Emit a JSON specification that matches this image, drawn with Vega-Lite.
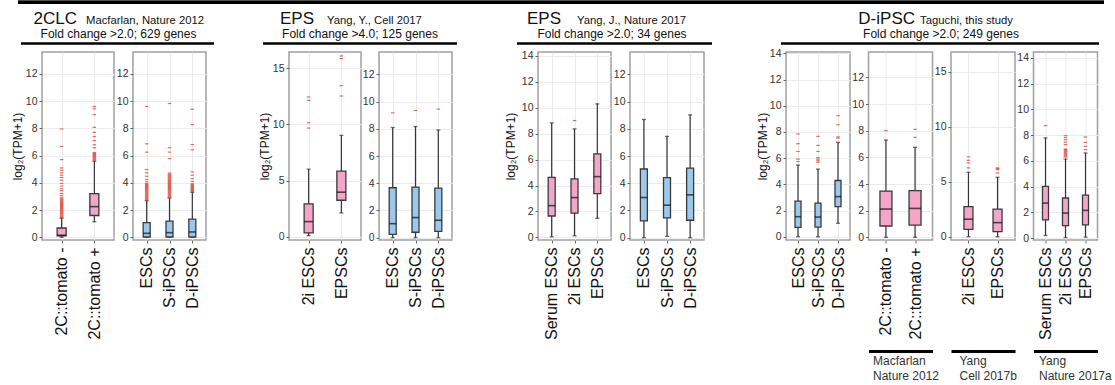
{
"$schema": "https://vega.github.io/schema/vega-lite/v6.json",
"background": "white",
"padding": {"left": 10, "top": 0, "right": 0, "bottom": 0},
"config": {
 "font": "Liberation Sans",
 "view": {"stroke": "#a0a0a0", "strokeWidth": 1.5},
 "axis": {"domain": false, "grid": true, "gridColor": "#ebebeb", "gridWidth": 1, "tickColor": "#666", "tickSize": 3, "tickWidth": 1, "labelColor": "#222", "titleFontWeight": "normal", "titleColor": "#111", "labelFont": "Liberation Sans", "titleFont": "Liberation Sans"},
 "axisX": {"labelAngle": -90, "labelFontSize": 16, "labelPadding": 4, "labelColor": "#111", "labelLimit": 200},
 "axisY": {"labelFontSize": 10.5, "labelPadding": 2, "labelColor": "#333", "titleFontSize": 12, "titlePadding": 1}
},
"datasets": {
 "hdr": [
  {"grp": "g1", "name": "2CLC", "ref": "Macfarlan, Nature 2012", "fc": "Fold change >2.0; 629 genes"},
  {"grp": "g2", "name": "EPS", "ref": "Yang, Y., Cell 2017", "fc": "Fold change >4.0; 125 genes"},
  {"grp": "g3", "name": "EPS", "ref": "Yang, J., Nature 2017", "fc": "Fold change >2.0; 34 genes"},
  {"grp": "g4", "name": "D-iPSC", "ref": "Taguchi, this study", "fc": "Fold change >2.0; 249 genes"}
 ],
 "box": [
  {"panel": "p1", "cat": "2C::tomato -", "lo": 0, "q1": 0.1, "med": 0.15, "q3": 0.68, "hi": 1.41},
  {"panel": "p1", "cat": "2C::tomato +", "lo": 1.14, "q1": 1.6, "med": 2.25, "q3": 3.2, "hi": 5.58},
  {"panel": "p2", "cat": "ESCs", "lo": 0, "q1": 0.02, "med": 0.29, "q3": 1.07, "hi": 2.69},
  {"panel": "p2", "cat": "S-iPSCs", "lo": 0, "q1": 0.02, "med": 0.34, "q3": 1.19, "hi": 2.89},
  {"panel": "p2", "cat": "D-iPSCs", "lo": 0, "q1": 0.02, "med": 0.39, "q3": 1.33, "hi": 3.3},
  {"panel": "p3", "cat": "2i ESCs", "lo": 0.09, "q1": 0.33, "med": 1.34, "q3": 2.92, "hi": 6.01},
  {"panel": "p3", "cat": "EPSCs", "lo": 2.11, "q1": 3.24, "med": 3.96, "q3": 5.83, "hi": 9.02},
  {"panel": "p4", "cat": "ESCs", "lo": 0, "q1": 0.25, "med": 1.03, "q3": 3.67, "hi": 8.1},
  {"panel": "p4", "cat": "S-iPSCs", "lo": 0, "q1": 0.4, "med": 1.48, "q3": 3.72, "hi": 8.17},
  {"panel": "p4", "cat": "D-iPSCs", "lo": 0, "q1": 0.47, "med": 1.28, "q3": 3.64, "hi": 7.92},
  {"panel": "p5", "cat": "Serum ESCs", "lo": 0.05, "q1": 1.65, "med": 2.45, "q3": 4.63, "hi": 8.83},
  {"panel": "p5", "cat": "2i ESCs", "lo": 0.13, "q1": 1.88, "med": 3.07, "q3": 4.51, "hi": 8.37},
  {"panel": "p5", "cat": "EPSCs", "lo": 1.47, "q1": 3.37, "med": 4.69, "q3": 6.44, "hi": 10.3},
  {"panel": "p6", "cat": "ESCs", "lo": 0, "q1": 1.23, "med": 2.95, "q3": 5.05, "hi": 8.69},
  {"panel": "p6", "cat": "S-iPSCs", "lo": 0.1, "q1": 1.45, "med": 2.39, "q3": 4.41, "hi": 7.45},
  {"panel": "p6", "cat": "D-iPSCs", "lo": 0, "q1": 1.28, "med": 3.15, "q3": 5.12, "hi": 9.03},
  {"panel": "p7", "cat": "ESCs", "lo": 0, "q1": 0.72, "med": 1.53, "q3": 2.71, "hi": 5.47},
  {"panel": "p7", "cat": "S-iPSCs", "lo": 0, "q1": 0.74, "med": 1.5, "q3": 2.56, "hi": 5.16},
  {"panel": "p7", "cat": "D-iPSCs", "lo": 1.03, "q1": 2.3, "med": 3.06, "q3": 4.29, "hi": 7.2},
  {"panel": "p8", "cat": "2C::tomato -", "lo": 0, "q1": 0.85, "med": 2.12, "q3": 3.47, "hi": 7.3},
  {"panel": "p8", "cat": "2C::tomato +", "lo": 0, "q1": 0.92, "med": 2.17, "q3": 3.5, "hi": 6.75},
  {"panel": "p9", "cat": "2i ESCs", "lo": 0, "q1": 0.67, "med": 1.59, "q3": 2.74, "hi": 5.86},
  {"panel": "p9", "cat": "EPSCs", "lo": 0, "q1": 0.46, "med": 1.28, "q3": 2.5, "hi": 5.4},
  {"panel": "p10", "cat": "Serum ESCs", "lo": 0.2, "q1": 1.42, "med": 2.72, "q3": 4.01, "hi": 7.78},
  {"panel": "p10", "cat": "2i ESCs", "lo": 0.04, "q1": 0.96, "med": 1.94, "q3": 3.11, "hi": 6.14},
  {"panel": "p10", "cat": "EPSCs", "lo": 0.07, "q1": 1.03, "med": 2.15, "q3": 3.34, "hi": 6.61}
 ],
 "out": [
  {"panel":"p1","cat":"2C::tomato -","v":1.42},{"panel":"p1","cat":"2C::tomato -","v":1.49},{"panel":"p1","cat":"2C::tomato -","v":1.56},{"panel":"p1","cat":"2C::tomato -","v":1.63},{"panel":"p1","cat":"2C::tomato -","v":1.7},{"panel":"p1","cat":"2C::tomato -","v":1.77},{"panel":"p1","cat":"2C::tomato -","v":1.84},{"panel":"p1","cat":"2C::tomato -","v":1.91},{"panel":"p1","cat":"2C::tomato -","v":1.98},{"panel":"p1","cat":"2C::tomato -","v":2.05},{"panel":"p1","cat":"2C::tomato -","v":2.12},{"panel":"p1","cat":"2C::tomato -","v":2.19},{"panel":"p1","cat":"2C::tomato -","v":2.26},{"panel":"p1","cat":"2C::tomato -","v":2.33},{"panel":"p1","cat":"2C::tomato -","v":2.4},{"panel":"p1","cat":"2C::tomato -","v":2.47},{"panel":"p1","cat":"2C::tomato -","v":2.54},{"panel":"p1","cat":"2C::tomato -","v":2.61},{"panel":"p1","cat":"2C::tomato -","v":2.68},{"panel":"p1","cat":"2C::tomato -","v":2.75},{"panel":"p1","cat":"2C::tomato -","v":2.82},{"panel":"p1","cat":"2C::tomato -","v":2.9},{"panel":"p1","cat":"2C::tomato -","v":3.05},{"panel":"p1","cat":"2C::tomato -","v":3.22},{"panel":"p1","cat":"2C::tomato -","v":3.42},{"panel":"p1","cat":"2C::tomato -","v":3.56},{"panel":"p1","cat":"2C::tomato -","v":3.76},{"panel":"p1","cat":"2C::tomato -","v":3.95},{"panel":"p1","cat":"2C::tomato -","v":4.19},{"panel":"p1","cat":"2C::tomato -","v":4.39},{"panel":"p1","cat":"2C::tomato -","v":4.56},{"panel":"p1","cat":"2C::tomato -","v":4.73},{"panel":"p1","cat":"2C::tomato -","v":4.92},{"panel":"p1","cat":"2C::tomato -","v":5.09},{"panel":"p1","cat":"2C::tomato -","v":5.7},{"panel":"p1","cat":"2C::tomato -","v":6.67},{"panel":"p1","cat":"2C::tomato -","v":7.95},
  {"panel":"p1","cat":"2C::tomato +","v":5.66},{"panel":"p1","cat":"2C::tomato +","v":5.73},{"panel":"p1","cat":"2C::tomato +","v":5.8},{"panel":"p1","cat":"2C::tomato +","v":5.87},{"panel":"p1","cat":"2C::tomato +","v":5.94},{"panel":"p1","cat":"2C::tomato +","v":6.01},{"panel":"p1","cat":"2C::tomato +","v":6.08},{"panel":"p1","cat":"2C::tomato +","v":6.15},{"panel":"p1","cat":"2C::tomato +","v":6.22},{"panel":"p1","cat":"2C::tomato +","v":6.57},{"panel":"p1","cat":"2C::tomato +","v":6.8},{"panel":"p1","cat":"2C::tomato +","v":7.1},{"panel":"p1","cat":"2C::tomato +","v":7.4},{"panel":"p1","cat":"2C::tomato +","v":7.7},{"panel":"p1","cat":"2C::tomato +","v":8.07},{"panel":"p1","cat":"2C::tomato +","v":9.0},{"panel":"p1","cat":"2C::tomato +","v":9.43},{"panel":"p1","cat":"2C::tomato +","v":9.6},
  {"panel":"p2","cat":"ESCs","v":2.75},{"panel":"p2","cat":"ESCs","v":2.82},{"panel":"p2","cat":"ESCs","v":2.89},{"panel":"p2","cat":"ESCs","v":2.96},{"panel":"p2","cat":"ESCs","v":3.03},{"panel":"p2","cat":"ESCs","v":3.1},{"panel":"p2","cat":"ESCs","v":3.17},{"panel":"p2","cat":"ESCs","v":3.24},{"panel":"p2","cat":"ESCs","v":3.31},{"panel":"p2","cat":"ESCs","v":3.38},{"panel":"p2","cat":"ESCs","v":3.45},{"panel":"p2","cat":"ESCs","v":3.52},{"panel":"p2","cat":"ESCs","v":3.59},{"panel":"p2","cat":"ESCs","v":3.66},{"panel":"p2","cat":"ESCs","v":3.73},{"panel":"p2","cat":"ESCs","v":3.8},{"panel":"p2","cat":"ESCs","v":3.87},{"panel":"p2","cat":"ESCs","v":3.94},{"panel":"p2","cat":"ESCs","v":4.07},{"panel":"p2","cat":"ESCs","v":4.24},{"panel":"p2","cat":"ESCs","v":4.48},{"panel":"p2","cat":"ESCs","v":4.73},{"panel":"p2","cat":"ESCs","v":4.97},{"panel":"p2","cat":"ESCs","v":6.25},{"panel":"p2","cat":"ESCs","v":6.86},{"panel":"p2","cat":"ESCs","v":9.6},
  {"panel":"p2","cat":"S-iPSCs","v":2.96},{"panel":"p2","cat":"S-iPSCs","v":3.03},{"panel":"p2","cat":"S-iPSCs","v":3.1},{"panel":"p2","cat":"S-iPSCs","v":3.17},{"panel":"p2","cat":"S-iPSCs","v":3.24},{"panel":"p2","cat":"S-iPSCs","v":3.31},{"panel":"p2","cat":"S-iPSCs","v":3.38},{"panel":"p2","cat":"S-iPSCs","v":3.45},{"panel":"p2","cat":"S-iPSCs","v":3.52},{"panel":"p2","cat":"S-iPSCs","v":3.59},{"panel":"p2","cat":"S-iPSCs","v":3.66},{"panel":"p2","cat":"S-iPSCs","v":3.73},{"panel":"p2","cat":"S-iPSCs","v":3.8},{"panel":"p2","cat":"S-iPSCs","v":3.87},{"panel":"p2","cat":"S-iPSCs","v":3.94},{"panel":"p2","cat":"S-iPSCs","v":4.01},{"panel":"p2","cat":"S-iPSCs","v":4.08},{"panel":"p2","cat":"S-iPSCs","v":4.15},{"panel":"p2","cat":"S-iPSCs","v":4.22},{"panel":"p2","cat":"S-iPSCs","v":4.29},{"panel":"p2","cat":"S-iPSCs","v":4.36},{"panel":"p2","cat":"S-iPSCs","v":4.43},{"panel":"p2","cat":"S-iPSCs","v":4.5},{"panel":"p2","cat":"S-iPSCs","v":4.57},{"panel":"p2","cat":"S-iPSCs","v":4.64},{"panel":"p2","cat":"S-iPSCs","v":4.71},{"panel":"p2","cat":"S-iPSCs","v":5.77},{"panel":"p2","cat":"S-iPSCs","v":6.25},{"panel":"p2","cat":"S-iPSCs","v":6.57},{"panel":"p2","cat":"S-iPSCs","v":9.82},
  {"panel":"p2","cat":"D-iPSCs","v":3.37},{"panel":"p2","cat":"D-iPSCs","v":3.44},{"panel":"p2","cat":"D-iPSCs","v":3.51},{"panel":"p2","cat":"D-iPSCs","v":3.58},{"panel":"p2","cat":"D-iPSCs","v":3.65},{"panel":"p2","cat":"D-iPSCs","v":3.72},{"panel":"p2","cat":"D-iPSCs","v":3.79},{"panel":"p2","cat":"D-iPSCs","v":3.86},{"panel":"p2","cat":"D-iPSCs","v":3.93},{"panel":"p2","cat":"D-iPSCs","v":4.1},{"panel":"p2","cat":"D-iPSCs","v":4.3},{"panel":"p2","cat":"D-iPSCs","v":4.55},{"panel":"p2","cat":"D-iPSCs","v":4.8},{"panel":"p2","cat":"D-iPSCs","v":6.42},{"panel":"p2","cat":"D-iPSCs","v":6.8},{"panel":"p2","cat":"D-iPSCs","v":8.27},{"panel":"p2","cat":"D-iPSCs","v":9.4},
  {"panel":"p3","cat":"2i ESCs","v":9.67},{"panel":"p3","cat":"2i ESCs","v":10.15},{"panel":"p3","cat":"2i ESCs","v":12.14},{"panel":"p3","cat":"2i ESCs","v":12.44},
  {"panel":"p3","cat":"EPSCs","v":12.53},{"panel":"p3","cat":"EPSCs","v":13.45},{"panel":"p3","cat":"EPSCs","v":15.87},{"panel":"p3","cat":"EPSCs","v":16.1},
  {"panel":"p4","cat":"ESCs","v":9.18},{"panel":"p4","cat":"S-iPSCs","v":9.35},{"panel":"p4","cat":"D-iPSCs","v":9.45},
  {"panel":"p5","cat":"2i ESCs","v":9.01},
  {"panel":"p7","cat":"ESCs","v":5.74},{"panel":"p7","cat":"ESCs","v":5.92},{"panel":"p7","cat":"ESCs","v":6.51},{"panel":"p7","cat":"ESCs","v":7.1},{"panel":"p7","cat":"ESCs","v":7.84},
  {"panel":"p7","cat":"S-iPSCs","v":5.69},{"panel":"p7","cat":"S-iPSCs","v":5.8},{"panel":"p7","cat":"S-iPSCs","v":5.92},{"panel":"p7","cat":"S-iPSCs","v":6.03},{"panel":"p7","cat":"S-iPSCs","v":6.51},{"panel":"p7","cat":"S-iPSCs","v":6.97},{"panel":"p7","cat":"S-iPSCs","v":7.66},
  {"panel":"p7","cat":"D-iPSCs","v":7.53},{"panel":"p7","cat":"D-iPSCs","v":7.62},{"panel":"p7","cat":"D-iPSCs","v":8.55},{"panel":"p7","cat":"D-iPSCs","v":9.24},
  {"panel":"p8","cat":"2C::tomato -","v":8.0},{"panel":"p8","cat":"2C::tomato +","v":7.5},{"panel":"p8","cat":"2C::tomato +","v":8.1},
  {"panel":"p9","cat":"2i ESCs","v":6.26},{"panel":"p9","cat":"2i ESCs","v":6.71},{"panel":"p9","cat":"2i ESCs","v":6.95},{"panel":"p9","cat":"2i ESCs","v":7.26},
  {"panel":"p9","cat":"EPSCs","v":5.8},{"panel":"p9","cat":"EPSCs","v":6.1},{"panel":"p9","cat":"EPSCs","v":6.2},{"panel":"p9","cat":"EPSCs","v":6.26},
  {"panel":"p10","cat":"Serum ESCs","v":8.73},
  {"panel":"p10","cat":"2i ESCs","v":6.3},{"panel":"p10","cat":"2i ESCs","v":6.38},{"panel":"p10","cat":"2i ESCs","v":6.46},{"panel":"p10","cat":"2i ESCs","v":6.54},{"panel":"p10","cat":"2i ESCs","v":6.62},{"panel":"p10","cat":"2i ESCs","v":6.7},{"panel":"p10","cat":"2i ESCs","v":6.78},{"panel":"p10","cat":"2i ESCs","v":6.86},{"panel":"p10","cat":"2i ESCs","v":6.92},{"panel":"p10","cat":"2i ESCs","v":7.26},{"panel":"p10","cat":"2i ESCs","v":7.45},{"panel":"p10","cat":"2i ESCs","v":7.64},{"panel":"p10","cat":"2i ESCs","v":7.8},{"panel":"p10","cat":"2i ESCs","v":7.95},
  {"panel":"p10","cat":"EPSCs","v":6.87},{"panel":"p10","cat":"EPSCs","v":7.12},{"panel":"p10","cat":"EPSCs","v":7.43},{"panel":"p10","cat":"EPSCs","v":7.85}
 ]
},
"spacing": 2,
"vconcat": [
 {
  "width": 1070, "height": 44,
  "view": {"stroke": null},
  "data": {"name": "hdr"},
  "layer": [
   {"mark": {"type": "rule", "strokeWidth": 3, "color": "#000"}, "encoding": {"x": {"datum": 17, "type": "quantitative", "scale": {"domain": [41, 1111], "nice": false, "zero": false}, "axis": null}, "x2": {"datum": 1103}, "y": {"datum": 1.3, "type": "quantitative", "scale": {"domain": [0, 44], "reverse": true, "nice": false, "zero": false}, "axis": null}}},
   {"transform": [{"filter": "datum.grp == 'g1'"}], "layer": [
     {"mark": {"type": "text", "align": "right", "baseline": "alphabetic", "fontSize": 17, "color": "#111"}, "encoding": {"x": {"datum": 76}, "y": {"datum": 23}, "text": {"field": "name"}}},
     {"mark": {"type": "text", "align": "left", "baseline": "alphabetic", "fontSize": 11.3, "color": "#111"}, "encoding": {"x": {"datum": 85}, "y": {"datum": 22.8}, "text": {"field": "ref"}}},
     {"mark": {"type": "text", "align": "center", "baseline": "alphabetic", "fontSize": 12, "color": "#111"}, "encoding": {"x": {"datum": 117.5}, "y": {"datum": 37.3}, "text": {"field": "fc"}}},
     {"mark": {"type": "rule", "strokeWidth": 2.3, "color": "#000"}, "encoding": {"x": {"datum": 20}, "x2": {"datum": 213}, "y": {"datum": 42.5}}}
   ]},
   {"transform": [{"filter": "datum.grp == 'g2'"}], "layer": [
     {"mark": {"type": "text", "align": "right", "baseline": "alphabetic", "fontSize": 17, "color": "#111"}, "encoding": {"x": {"datum": 313}, "y": {"datum": 23}, "text": {"field": "name"}}},
     {"mark": {"type": "text", "align": "left", "baseline": "alphabetic", "fontSize": 11.3, "color": "#111"}, "encoding": {"x": {"datum": 326}, "y": {"datum": 22.8}, "text": {"field": "ref"}}},
     {"mark": {"type": "text", "align": "center", "baseline": "alphabetic", "fontSize": 12, "color": "#111"}, "encoding": {"x": {"datum": 359}, "y": {"datum": 37.3}, "text": {"field": "fc"}}},
     {"mark": {"type": "rule", "strokeWidth": 2.3, "color": "#000"}, "encoding": {"x": {"datum": 262}, "x2": {"datum": 456}, "y": {"datum": 42.5}}}
   ]},
   {"transform": [{"filter": "datum.grp == 'g3'"}], "layer": [
     {"mark": {"type": "text", "align": "right", "baseline": "alphabetic", "fontSize": 17, "color": "#111"}, "encoding": {"x": {"datum": 560}, "y": {"datum": 23}, "text": {"field": "name"}}},
     {"mark": {"type": "text", "align": "left", "baseline": "alphabetic", "fontSize": 11.3, "color": "#111"}, "encoding": {"x": {"datum": 576}, "y": {"datum": 22.8}, "text": {"field": "ref"}}},
     {"mark": {"type": "text", "align": "center", "baseline": "alphabetic", "fontSize": 12, "color": "#111"}, "encoding": {"x": {"datum": 611}, "y": {"datum": 37.3}, "text": {"field": "fc"}}},
     {"mark": {"type": "rule", "strokeWidth": 2.3, "color": "#000"}, "encoding": {"x": {"datum": 516}, "x2": {"datum": 711}, "y": {"datum": 42.5}}}
   ]},
   {"transform": [{"filter": "datum.grp == 'g4'"}], "layer": [
     {"mark": {"type": "text", "align": "right", "baseline": "alphabetic", "fontSize": 17, "color": "#111"}, "encoding": {"x": {"datum": 914}, "y": {"datum": 23}, "text": {"field": "name"}}},
     {"mark": {"type": "text", "align": "left", "baseline": "alphabetic", "fontSize": 11.3, "color": "#111"}, "encoding": {"x": {"datum": 919}, "y": {"datum": 22.8}, "text": {"field": "ref"}}},
     {"mark": {"type": "text", "align": "center", "baseline": "alphabetic", "fontSize": 12, "color": "#111"}, "encoding": {"x": {"datum": 940}, "y": {"datum": 37.3}, "text": {"field": "fc"}}},
     {"mark": {"type": "rule", "strokeWidth": 2.3, "color": "#000"}, "encoding": {"x": {"datum": 780}, "x2": {"datum": 1098}, "y": {"datum": 42.5}}}
   ]}
  ]
 },
 {
  "spacing": 50,
  "hconcat": [
   {"spacing": 19, "bounds": "flush", "hconcat": [
    {"width": 72, "height": 188, "data": {"name": "box"}, "transform": [{"filter": "datum.panel == 'p1'"}],
     "encoding": {"x": {"field": "cat", "type": "nominal", "title": null, "scale": {"type": "point", "padding": 0.6, "domain": ["2C::tomato -", "2C::tomato +"]}}},
     "layer": [
      {"mark": {"type": "rule", "color": "#333", "strokeWidth": 1.2}, "encoding": {"y": {"field": "lo", "type": "quantitative", "title": "log₂(TPM+1)", "scale": {"domain": [-0.2, 13.6], "nice": false, "zero": false}, "axis": {"tickCount": 7}}, "y2": {"field": "hi"}}},
      {"mark": {"type": "tick", "color": "#333", "size": 4, "thickness": 1.3}, "encoding": {"y": {"field": "lo", "type": "quantitative", "title": "log₂(TPM+1)"}}},
      {"mark": {"type": "tick", "color": "#333", "size": 4, "thickness": 1.3}, "encoding": {"y": {"field": "hi", "type": "quantitative", "title": "log₂(TPM+1)"}}},
      {"mark": {"type": "bar", "width": 9, "fill": "#f3a6c8", "stroke": "#3a3a3a", "strokeWidth": 1.3}, "encoding": {"y": {"field": "q1", "type": "quantitative", "title": "log₂(TPM+1)"}, "y2": {"field": "q3"}}},
      {"mark": {"type": "tick", "color": "#111", "size": 9, "thickness": 1.6}, "encoding": {"y": {"field": "med", "type": "quantitative", "title": "log₂(TPM+1)"}}},
      {"data": {"name": "out"}, "transform": [{"filter": "datum.panel == 'p1'"}], "mark": {"type": "tick", "color": "#d7301f", "size": 3.5, "thickness": 1.2}, "encoding": {"y": {"field": "v", "type": "quantitative", "title": "log₂(TPM+1)"}}}
     ]},
    {"width": 73, "height": 188, "data": {"name": "box"}, "transform": [{"filter": "datum.panel == 'p2'"}],
     "encoding": {"x": {"field": "cat", "type": "nominal", "title": null, "scale": {"type": "point", "padding": 0.6, "domain": ["ESCs", "S-iPSCs", "D-iPSCs"]}}},
     "layer": [
      {"mark": {"type": "rule", "color": "#333", "strokeWidth": 1.2}, "encoding": {"y": {"field": "lo", "type": "quantitative", "title": null, "scale": {"domain": [-0.2, 13.6], "nice": false, "zero": false}, "axis": {"tickCount": 7}}, "y2": {"field": "hi"}}},
      {"mark": {"type": "tick", "color": "#333", "size": 4, "thickness": 1.3}, "encoding": {"y": {"field": "lo", "type": "quantitative", "title": null}}},
      {"mark": {"type": "tick", "color": "#333", "size": 4, "thickness": 1.3}, "encoding": {"y": {"field": "hi", "type": "quantitative", "title": null}}},
      {"mark": {"type": "bar", "width": 7, "fill": "#9cc9eb", "stroke": "#3a3a3a", "strokeWidth": 1.3}, "encoding": {"y": {"field": "q1", "type": "quantitative", "title": null}, "y2": {"field": "q3"}}},
      {"mark": {"type": "tick", "color": "#111", "size": 7, "thickness": 1.6}, "encoding": {"y": {"field": "med", "type": "quantitative", "title": null}}},
      {"data": {"name": "out"}, "transform": [{"filter": "datum.panel == 'p2'"}], "mark": {"type": "tick", "color": "#d7301f", "size": 3.5, "thickness": 1.2}, "encoding": {"y": {"field": "v", "type": "quantitative", "title": null}}}
     ]}
   ]},
   {"spacing": 18, "bounds": "flush", "hconcat": [
    {"width": 72, "height": 188, "data": {"name": "box"}, "transform": [{"filter": "datum.panel == 'p3'"}],
     "encoding": {"x": {"field": "cat", "type": "nominal", "title": null, "scale": {"type": "point", "padding": 0.6, "domain": ["2i ESCs", "EPSCs"]}}},
     "layer": [
      {"mark": {"type": "rule", "color": "#333", "strokeWidth": 1.2}, "encoding": {"y": {"field": "lo", "type": "quantitative", "title": "log₂(TPM+1)", "scale": {"domain": [-0.3, 16.45], "nice": false, "zero": false}, "axis": {"tickCount": 4}}, "y2": {"field": "hi"}}},
      {"mark": {"type": "tick", "color": "#333", "size": 4, "thickness": 1.3}, "encoding": {"y": {"field": "lo", "type": "quantitative", "title": "log₂(TPM+1)"}}},
      {"mark": {"type": "tick", "color": "#333", "size": 4, "thickness": 1.3}, "encoding": {"y": {"field": "hi", "type": "quantitative", "title": "log₂(TPM+1)"}}},
      {"mark": {"type": "bar", "width": 9, "fill": "#f3a6c8", "stroke": "#3a3a3a", "strokeWidth": 1.3}, "encoding": {"y": {"field": "q1", "type": "quantitative", "title": "log₂(TPM+1)"}, "y2": {"field": "q3"}}},
      {"mark": {"type": "tick", "color": "#111", "size": 9, "thickness": 1.6}, "encoding": {"y": {"field": "med", "type": "quantitative", "title": "log₂(TPM+1)"}}},
      {"data": {"name": "out"}, "transform": [{"filter": "datum.panel == 'p3'"}], "mark": {"type": "tick", "color": "#d7301f", "size": 3.5, "thickness": 1.2}, "encoding": {"y": {"field": "v", "type": "quantitative", "title": "log₂(TPM+1)"}}}
     ]},
    {"width": 73, "height": 188, "data": {"name": "box"}, "transform": [{"filter": "datum.panel == 'p4'"}],
     "encoding": {"x": {"field": "cat", "type": "nominal", "title": null, "scale": {"type": "point", "padding": 0.6, "domain": ["ESCs", "S-iPSCs", "D-iPSCs"]}}},
     "layer": [
      {"mark": {"type": "rule", "color": "#333", "strokeWidth": 1.2}, "encoding": {"y": {"field": "lo", "type": "quantitative", "title": null, "scale": {"domain": [-0.17, 13.65], "nice": false, "zero": false}, "axis": {"tickCount": 7}}, "y2": {"field": "hi"}}},
      {"mark": {"type": "tick", "color": "#333", "size": 4, "thickness": 1.3}, "encoding": {"y": {"field": "lo", "type": "quantitative", "title": null}}},
      {"mark": {"type": "tick", "color": "#333", "size": 4, "thickness": 1.3}, "encoding": {"y": {"field": "hi", "type": "quantitative", "title": null}}},
      {"mark": {"type": "bar", "width": 7, "fill": "#9cc9eb", "stroke": "#3a3a3a", "strokeWidth": 1.3}, "encoding": {"y": {"field": "q1", "type": "quantitative", "title": null}, "y2": {"field": "q3"}}},
      {"mark": {"type": "tick", "color": "#111", "size": 7, "thickness": 1.6}, "encoding": {"y": {"field": "med", "type": "quantitative", "title": null}}},
      {"data": {"name": "out"}, "transform": [{"filter": "datum.panel == 'p4'"}], "mark": {"type": "tick", "color": "#d7301f", "size": 3.5, "thickness": 1.2}, "encoding": {"y": {"field": "v", "type": "quantitative", "title": null}}}
     ]}
   ]},
   {"spacing": 19, "bounds": "flush", "hconcat": [
    {"width": 73, "height": 188, "data": {"name": "box"}, "transform": [{"filter": "datum.panel == 'p5'"}],
     "encoding": {"x": {"field": "cat", "type": "nominal", "title": null, "scale": {"type": "point", "padding": 0.6, "domain": ["Serum ESCs", "2i ESCs", "EPSCs"]}}},
     "layer": [
      {"mark": {"type": "rule", "color": "#333", "strokeWidth": 1.2}, "encoding": {"y": {"field": "lo", "type": "quantitative", "title": "log₂(TPM+1)", "scale": {"domain": [-0.2, 14.3], "nice": false, "zero": false}, "axis": {"tickCount": 8, "titlePadding": 4}}, "y2": {"field": "hi"}}},
      {"mark": {"type": "tick", "color": "#333", "size": 4, "thickness": 1.3}, "encoding": {"y": {"field": "lo", "type": "quantitative", "title": "log₂(TPM+1)"}}},
      {"mark": {"type": "tick", "color": "#333", "size": 4, "thickness": 1.3}, "encoding": {"y": {"field": "hi", "type": "quantitative", "title": "log₂(TPM+1)"}}},
      {"mark": {"type": "bar", "width": 7, "fill": "#f3a6c8", "stroke": "#3a3a3a", "strokeWidth": 1.3}, "encoding": {"y": {"field": "q1", "type": "quantitative", "title": "log₂(TPM+1)"}, "y2": {"field": "q3"}}},
      {"mark": {"type": "tick", "color": "#111", "size": 7, "thickness": 1.6}, "encoding": {"y": {"field": "med", "type": "quantitative", "title": "log₂(TPM+1)"}}},
      {"data": {"name": "out"}, "transform": [{"filter": "datum.panel == 'p5'"}], "mark": {"type": "tick", "color": "#d7301f", "size": 3.5, "thickness": 1.2}, "encoding": {"y": {"field": "v", "type": "quantitative", "title": "log₂(TPM+1)"}}}
     ]},
    {"width": 74, "height": 188, "data": {"name": "box"}, "transform": [{"filter": "datum.panel == 'p6'"}],
     "encoding": {"x": {"field": "cat", "type": "nominal", "title": null, "scale": {"type": "point", "padding": 0.6, "domain": ["ESCs", "S-iPSCs", "D-iPSCs"]}}},
     "layer": [
      {"mark": {"type": "rule", "color": "#333", "strokeWidth": 1.2}, "encoding": {"y": {"field": "lo", "type": "quantitative", "title": null, "scale": {"domain": [-0.17, 13.65], "nice": false, "zero": false}, "axis": {"tickCount": 7}}, "y2": {"field": "hi"}}},
      {"mark": {"type": "tick", "color": "#333", "size": 4, "thickness": 1.3}, "encoding": {"y": {"field": "lo", "type": "quantitative", "title": null}}},
      {"mark": {"type": "tick", "color": "#333", "size": 4, "thickness": 1.3}, "encoding": {"y": {"field": "hi", "type": "quantitative", "title": null}}},
      {"mark": {"type": "bar", "width": 7, "fill": "#9cc9eb", "stroke": "#3a3a3a", "strokeWidth": 1.3}, "encoding": {"y": {"field": "q1", "type": "quantitative", "title": null}, "y2": {"field": "q3"}}},
      {"mark": {"type": "tick", "color": "#111", "size": 7, "thickness": 1.6}, "encoding": {"y": {"field": "med", "type": "quantitative", "title": null}}}
     ]}
   ]},
   {"spacing": 18.5, "bounds": "flush", "hconcat": [
    {"width": 64, "height": 188, "data": {"name": "box"}, "transform": [{"filter": "datum.panel == 'p7'"}],
     "encoding": {"x": {"field": "cat", "type": "nominal", "title": null, "scale": {"type": "point", "padding": 0.6, "domain": ["ESCs", "S-iPSCs", "D-iPSCs"]}}},
     "layer": [
      {"mark": {"type": "rule", "color": "#333", "strokeWidth": 1.2}, "encoding": {"y": {"field": "lo", "type": "quantitative", "title": "log₂(TPM+1)", "scale": {"domain": [-0.25, 14.1], "nice": false, "zero": false}, "axis": {"tickCount": 7, "titlePadding": 0}}, "y2": {"field": "hi"}}},
      {"mark": {"type": "tick", "color": "#333", "size": 4, "thickness": 1.3}, "encoding": {"y": {"field": "lo", "type": "quantitative", "title": "log₂(TPM+1)"}}},
      {"mark": {"type": "tick", "color": "#333", "size": 4, "thickness": 1.3}, "encoding": {"y": {"field": "hi", "type": "quantitative", "title": "log₂(TPM+1)"}}},
      {"mark": {"type": "bar", "width": 6, "fill": "#9cc9eb", "stroke": "#3a3a3a", "strokeWidth": 1.3}, "encoding": {"y": {"field": "q1", "type": "quantitative", "title": "log₂(TPM+1)"}, "y2": {"field": "q3"}}},
      {"mark": {"type": "tick", "color": "#111", "size": 6, "thickness": 1.6}, "encoding": {"y": {"field": "med", "type": "quantitative", "title": "log₂(TPM+1)"}}},
      {"data": {"name": "out"}, "transform": [{"filter": "datum.panel == 'p7'"}], "mark": {"type": "tick", "color": "#d7301f", "size": 3.5, "thickness": 1.2}, "encoding": {"y": {"field": "v", "type": "quantitative", "title": "log₂(TPM+1)"}}}
     ]},
    {"width": 64, "height": 188, "data": {"name": "box"}, "transform": [{"filter": "datum.panel == 'p8'"}],
     "resolve": {"axis": {"x": "independent"}},
     "layer": [
      {"encoding": {"x": {"field": "cat", "type": "nominal", "title": null, "scale": {"type": "point", "padding": 0.6, "domain": ["2C::tomato -", "2C::tomato +"]}}},
       "layer": [
        {"mark": {"type": "rule", "color": "#333", "strokeWidth": 1.2}, "encoding": {"y": {"field": "lo", "type": "quantitative", "title": null, "scale": {"domain": [-0.2, 13.9], "nice": false, "zero": false}, "axis": {"tickCount": 7}}, "y2": {"field": "hi"}}},
        {"mark": {"type": "tick", "color": "#333", "size": 4, "thickness": 1.3}, "encoding": {"y": {"field": "lo", "type": "quantitative", "title": null}}},
        {"mark": {"type": "tick", "color": "#333", "size": 4, "thickness": 1.3}, "encoding": {"y": {"field": "hi", "type": "quantitative", "title": null}}},
        {"mark": {"type": "bar", "width": 12, "fill": "#f3a6c8", "stroke": "#3a3a3a", "strokeWidth": 1.3}, "encoding": {"y": {"field": "q1", "type": "quantitative", "title": null}, "y2": {"field": "q3"}}},
        {"mark": {"type": "tick", "color": "#111", "size": 12, "thickness": 1.6}, "encoding": {"y": {"field": "med", "type": "quantitative", "title": null}}},
        {"data": {"name": "out"}, "transform": [{"filter": "datum.panel == 'p8'"}], "mark": {"type": "tick", "color": "#d7301f", "size": 3.5, "thickness": 1.2}, "encoding": {"y": {"field": "v", "type": "quantitative", "title": null}}}
       ]},
      {"mark": {"type": "rule", "opacity": 0}, "encoding": {"x": {"field": "cat", "type": "nominal", "title": ["Macfarlan", "Nature 2012"], "scale": {"type": "point", "padding": 0.6, "domain": ["2C::tomato -", "2C::tomato +"]}, "axis": {"orient": "bottom", "offset": 111, "labels": false, "ticks": false, "grid": false, "domain": true, "domainColor": "#000", "domainWidth": 3, "titleAnchor": "start", "titleAlign": "left", "titleBaseline": "top", "titleX": 4, "titleY": 4, "titleFontSize": 12, "titleColor": "#333", "titleLineHeight": 15}}}}
     ]},
    {"width": 64, "height": 188, "data": {"name": "box"}, "transform": [{"filter": "datum.panel == 'p9'"}],
     "resolve": {"axis": {"x": "independent"}},
     "layer": [
      {"encoding": {"x": {"field": "cat", "type": "nominal", "title": null, "scale": {"type": "point", "padding": 0.6, "domain": ["2i ESCs", "EPSCs"]}}},
       "layer": [
        {"mark": {"type": "rule", "color": "#333", "strokeWidth": 1.2}, "encoding": {"y": {"field": "lo", "type": "quantitative", "title": null, "scale": {"domain": [-0.3, 16.8], "nice": false, "zero": false}, "axis": {"tickCount": 4}}, "y2": {"field": "hi"}}},
        {"mark": {"type": "tick", "color": "#333", "size": 4, "thickness": 1.3}, "encoding": {"y": {"field": "lo", "type": "quantitative", "title": null}}},
        {"mark": {"type": "tick", "color": "#333", "size": 4, "thickness": 1.3}, "encoding": {"y": {"field": "hi", "type": "quantitative", "title": null}}},
        {"mark": {"type": "bar", "width": 9, "fill": "#f3a6c8", "stroke": "#3a3a3a", "strokeWidth": 1.3}, "encoding": {"y": {"field": "q1", "type": "quantitative", "title": null}, "y2": {"field": "q3"}}},
        {"mark": {"type": "tick", "color": "#111", "size": 9, "thickness": 1.6}, "encoding": {"y": {"field": "med", "type": "quantitative", "title": null}}},
        {"data": {"name": "out"}, "transform": [{"filter": "datum.panel == 'p9'"}], "mark": {"type": "tick", "color": "#d7301f", "size": 3.5, "thickness": 1.2}, "encoding": {"y": {"field": "v", "type": "quantitative", "title": null}}}
       ]},
      {"mark": {"type": "rule", "opacity": 0}, "encoding": {"x": {"field": "cat", "type": "nominal", "title": ["Yang", "Cell 2017b"], "scale": {"type": "point", "padding": 0.6, "domain": ["2i ESCs", "EPSCs"]}, "axis": {"orient": "bottom", "offset": 111, "labels": false, "ticks": false, "grid": false, "domain": true, "domainColor": "#000", "domainWidth": 3, "titleAnchor": "start", "titleAlign": "left", "titleBaseline": "top", "titleX": 8, "titleY": 4, "titleFontSize": 12, "titleColor": "#333", "titleLineHeight": 15}}}}
     ]},
    {"width": 64, "height": 188, "data": {"name": "box"}, "transform": [{"filter": "datum.panel == 'p10'"}],
     "resolve": {"axis": {"x": "independent"}},
     "layer": [
      {"encoding": {"x": {"field": "cat", "type": "nominal", "title": null, "scale": {"type": "point", "padding": 0.6, "domain": ["Serum ESCs", "2i ESCs", "EPSCs"]}}},
       "layer": [
        {"mark": {"type": "rule", "color": "#333", "strokeWidth": 1.2}, "encoding": {"y": {"field": "lo", "type": "quantitative", "title": null, "scale": {"domain": [-0.15, 14.45], "nice": false, "zero": false}, "axis": {"tickCount": 8}}, "y2": {"field": "hi"}}},
        {"mark": {"type": "tick", "color": "#333", "size": 4, "thickness": 1.3}, "encoding": {"y": {"field": "lo", "type": "quantitative", "title": null}}},
        {"mark": {"type": "tick", "color": "#333", "size": 4, "thickness": 1.3}, "encoding": {"y": {"field": "hi", "type": "quantitative", "title": null}}},
        {"mark": {"type": "bar", "width": 6, "fill": "#f3a6c8", "stroke": "#3a3a3a", "strokeWidth": 1.3}, "encoding": {"y": {"field": "q1", "type": "quantitative", "title": null}, "y2": {"field": "q3"}}},
        {"mark": {"type": "tick", "color": "#111", "size": 6, "thickness": 1.6}, "encoding": {"y": {"field": "med", "type": "quantitative", "title": null}}},
        {"data": {"name": "out"}, "transform": [{"filter": "datum.panel == 'p10'"}], "mark": {"type": "tick", "color": "#d7301f", "size": 3.5, "thickness": 1.2}, "encoding": {"y": {"field": "v", "type": "quantitative", "title": null}}}
       ]},
      {"mark": {"type": "rule", "opacity": 0}, "encoding": {"x": {"field": "cat", "type": "nominal", "title": ["Yang", "Nature 2017a"], "scale": {"type": "point", "padding": 0.6, "domain": ["Serum ESCs", "2i ESCs", "EPSCs"]}, "axis": {"orient": "bottom", "offset": 111, "labels": false, "ticks": false, "grid": false, "domain": true, "domainColor": "#000", "domainWidth": 3, "titleAnchor": "start", "titleAlign": "left", "titleBaseline": "top", "titleX": 5, "titleY": 4, "titleFontSize": 12, "titleColor": "#333", "titleLineHeight": 15}}}}
     ]}
   ]}
  ]
 }
]
}
